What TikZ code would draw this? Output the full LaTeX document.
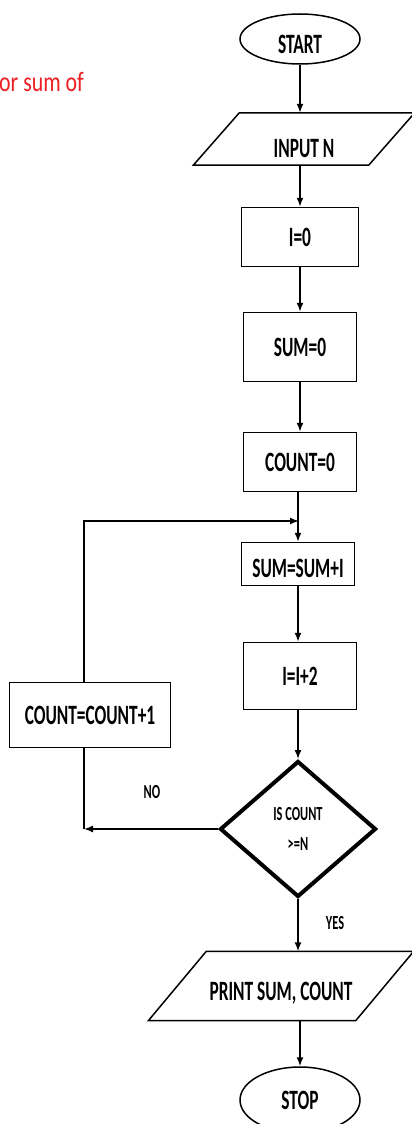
\documentclass[tikz,border=0pt]{standalone}
\usepackage{fontspec}
\setmainfont{Carlito}[FakeStretch=0.62]
\newfontfamily\notefont{Carlito}[FakeStretch=0.78]
\usetikzlibrary{shapes.geometric,calc,arrows.meta}
\definecolor{notered}{RGB}{235,30,35}

\tikzset{
  box/.style={draw, rectangle, line width=1.5pt, inner sep=0pt,
    font=\bfseries\fontsize{28}{30}\selectfont},
  terminal/.style={draw, ellipse, line width=1.5pt, inner sep=0pt,
    minimum width=120pt, minimum height=50pt, font=\bfseries\fontsize{28}{30}\selectfont},
  decision/.style={draw, diamond, line width=4pt, inner sep=0pt, align=center,
    minimum width=156pt, minimum height=136pt, font=\bfseries\fontsize{20}{30}\selectfont},
  iotext/.style={rectangle, inner sep=0pt, font=\bfseries\fontsize{28}{30}\selectfont},
  flow/.style={line width=1.5pt, -{Latex[length=9pt,width=7pt]}},
  tag/.style={inner sep=0pt, font=\bfseries\fontsize{20}{24}\selectfont}
}
% parallelogram drawn round a text node, #2 = half the slant
\newcommand{\ioshape}[2]{%
  \draw[line width=1.5pt] ($(#1.north west)+(#2,0)$) -- ($(#1.north east)+(#2,0)$)
    -- ($(#1.south east)-(#2,0)$) -- ($(#1.south west)-(#2,0)$) -- cycle;}

\begin{document}
\begin{tikzpicture}[x=1pt, y=-1pt]
    \useasboundingbox (0,0) rectangle (412,1124);

    \node[anchor=base west, inner sep=0pt, text=notered,
      font=\notefont\fontsize{28}{30}\selectfont] (title) at (-1,92) {or sum of};

    \node[terminal, text height=30pt] (start) at (300,39) {START};
    \node[iotext, minimum width=175pt, minimum height=52pt, text height=38pt] (input) at (304,139) {INPUT N};
    \ioshape{input}{23}
    \node[box, minimum width=117pt, minimum height=59pt] (izero) at (300,237) {I=0};
    \node[box, minimum width=113pt, minimum height=69pt] (sumzero) at (300,347) {SUM=0};
    \node[box, minimum width=113pt, minimum height=59pt] (countzero) at (300,462) {COUNT=0};
    \node[box, minimum width=113pt, minimum height=43pt, text height=28pt] (sumadd) at (298,564) {SUM=SUM+I};
    \node[box, minimum width=113pt, minimum height=67pt] (iadd) at (300,676) {I=I+2};
    \node[decision] (check) at (298,829) {IS COUNT\\>=N};
    \node[iotext, minimum width=207pt, minimum height=69pt, text height=32pt] (print) at (281,986) {PRINT SUM, COUNT};
    \ioshape{print}{29}
    \node[terminal, minimum height=66pt] (stop) at (300,1100) {STOP};
    \node[box, minimum width=161pt, minimum height=65pt] (countadd) at (90,715) {COUNT=COUNT+1};

    \coordinate (loopturn) at (84,521);% corner of the back loop
    \coordinate (loopjoin) at (299,521);

    \draw[flow] (start) -- (start |- input.north);
    \draw[flow] (izero |- input.south) -- (izero);
    \draw[flow] (izero) -- (sumzero);
    \draw[flow] (sumzero) -- (countzero);
    \draw[flow] (countzero.south -| sumadd) -- (sumadd);
    \draw[flow] (sumadd) -- (sumadd |- iadd.north);
    \draw[flow] (iadd.south -| check) -- (check);
    \draw[flow] (check) -- (check.south |- print.north);
    \draw[flow] (print.south -| stop.north) -- (stop);
    % back loop through COUNT=COUNT+1
    \draw[flow] (check.west) -- (check.west -| loopturn);
    \draw[line width=1.5pt] (countadd.south -| loopturn) -- (check.west -| loopturn);
    \draw[flow] (countadd.north -| loopturn) -- (loopturn) -- (loopjoin);

    \node[tag] (nolabel) at (152,792) {NO};
    \node[tag] (yeslabel) at (335,923) {YES};
\end{tikzpicture}
\end{document}
